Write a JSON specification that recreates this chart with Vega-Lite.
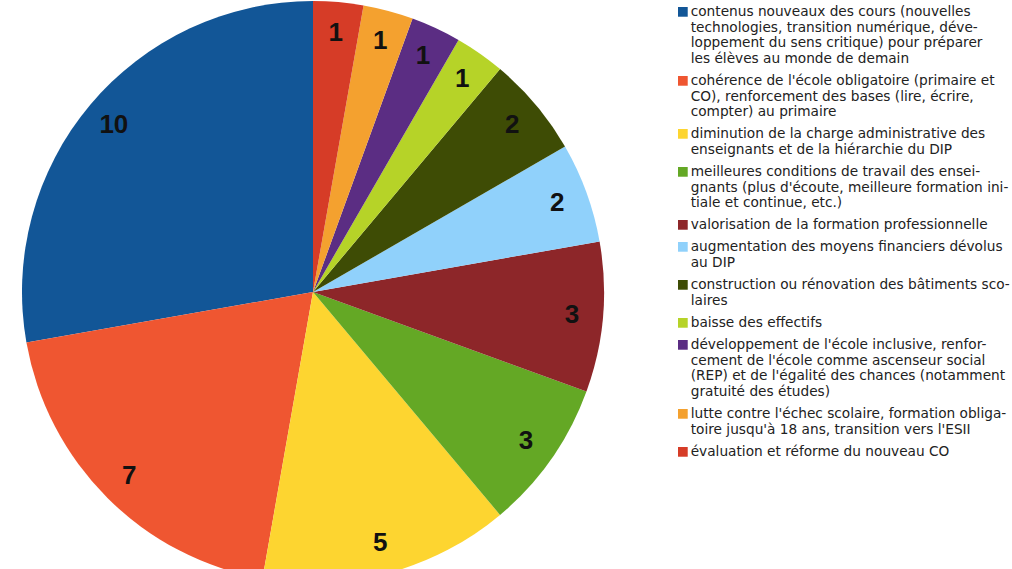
{
  "$schema": "https://vega.github.io/schema/vega-lite/v6.json",
  "width": 626,
  "height": 584,
  "autosize": "none",
  "padding": {"left": 0, "top": 0, "right": 386, "bottom": -15},
  "background": "white",
  "data": {
    "values": [
      {"rank": 1, "cause": "contenus nouveaux des cours (nouvelles|technologies, transition numérique, déve-|loppement du sens critique) pour préparer|les élèves au monde de demain", "n": 10},
      {"rank": 2, "cause": "cohérence de l'école obligatoire (primaire et|CO), renforcement des bases (lire, écrire,|compter) au primaire", "n": 7},
      {"rank": 3, "cause": "diminution de la charge administrative des|enseignants et de la hiérarchie du DIP", "n": 5},
      {"rank": 4, "cause": "meilleures conditions de travail des ensei-|gnants (plus d'écoute, meilleure formation ini-|tiale et continue, etc.)", "n": 3},
      {"rank": 5, "cause": "valorisation de la formation professionnelle", "n": 3},
      {"rank": 6, "cause": "augmentation des moyens financiers dévolus|au DIP", "n": 2},
      {"rank": 7, "cause": "construction ou rénovation des bâtiments sco-|laires", "n": 2},
      {"rank": 8, "cause": "baisse des effectifs", "n": 1},
      {"rank": 9, "cause": "développement de l'école inclusive, renfor-|cement de l'école comme ascenseur social|(REP) et de l'égalité des chances (notamment|gratuité des études)", "n": 1},
      {"rank": 10, "cause": "lutte contre l'échec scolaire, formation obliga-|toire jusqu'à 18 ans, transition vers l'ESII", "n": 1},
      {"rank": 11, "cause": "évaluation et réforme du nouveau CO", "n": 1}
    ]
  },
  "encoding": {
    "theta": {"field": "n", "type": "quantitative", "stack": true},
    "order": {"field": "rank", "type": "quantitative", "sort": "descending"}
  },
  "layer": [
    {
      "mark": {"type": "arc", "outerRadius": 291, "stroke": null},
      "encoding": {
        "color": {
          "field": "cause",
          "type": "nominal",
          "scale": {
            "domain": [
              "contenus nouveaux des cours (nouvelles|technologies, transition numérique, déve-|loppement du sens critique) pour préparer|les élèves au monde de demain",
              "cohérence de l'école obligatoire (primaire et|CO), renforcement des bases (lire, écrire,|compter) au primaire",
              "diminution de la charge administrative des|enseignants et de la hiérarchie du DIP",
              "meilleures conditions de travail des ensei-|gnants (plus d'écoute, meilleure formation ini-|tiale et continue, etc.)",
              "valorisation de la formation professionnelle",
              "augmentation des moyens financiers dévolus|au DIP",
              "construction ou rénovation des bâtiments sco-|laires",
              "baisse des effectifs",
              "développement de l'école inclusive, renfor-|cement de l'école comme ascenseur social|(REP) et de l'égalité des chances (notamment|gratuité des études)",
              "lutte contre l'échec scolaire, formation obliga-|toire jusqu'à 18 ans, transition vers l'ESII",
              "évaluation et réforme du nouveau CO"
            ],
            "range": ["#125697", "#ef5631", "#fdd530", "#64a825", "#8d2629", "#90d1fb", "#3e4c05", "#b6d328", "#5b2d83", "#f4a12f", "#d63c27"]
          },
          "legend": {
            "title": null,
            "orient": "none",
            "legendX": 676,
            "legendY": 5,
            "symbolType": "square",
            "symbolSize": 95,
            "symbolStrokeWidth": 0,
            "labelExpr": "split(datum.label, '|')",
            "labelLimit": 0,
            "labelFont": "DejaVu Sans",
            "labelFontSize": 13.7,
            "labelColor": "#222222",
            "labelOffset": 1,
            "rowPadding": 7
          }
        }
      }
    },
    {
      "mark": {"type": "text", "radius": 260, "font": "Liberation Sans", "fontWeight": "bold", "fontSize": 26, "color": "#111111"},
      "encoding": {
        "text": {"field": "n", "type": "quantitative"}
      }
    }
  ]
}
